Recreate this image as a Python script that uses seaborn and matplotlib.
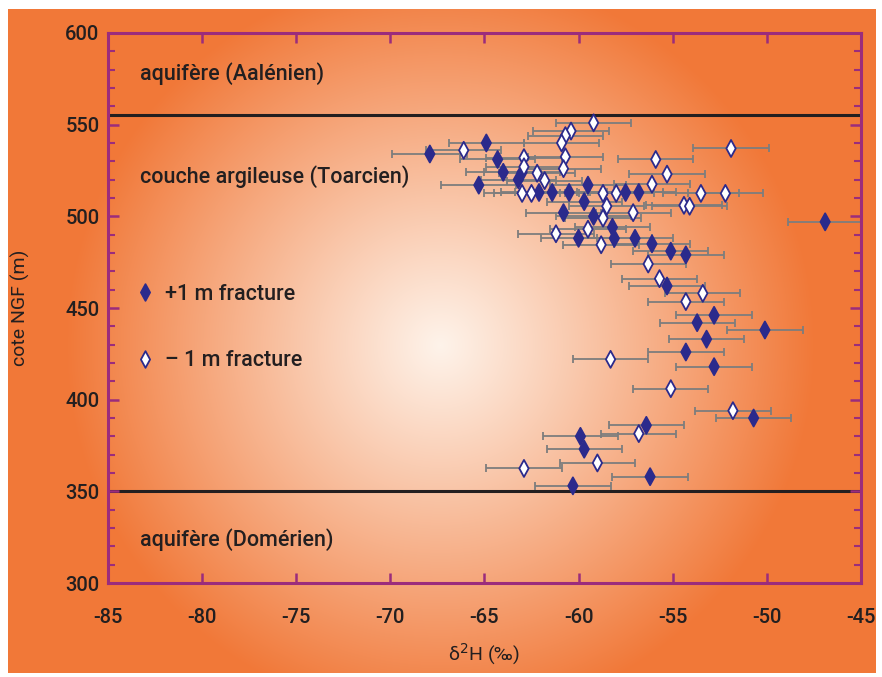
import matplotlib
matplotlib.use("Agg")
import matplotlib.pyplot as plt
from matplotlib.lines import Line2D
from matplotlib.path import Path
from matplotlib.ticker import MultipleLocator
import numpy as np
import pandas as pd
import seaborn as sns

# +1 m fracture (filled diamonds)
plus_d2h = [-67.9, -64.9, -64.3, -64.0, -65.3, -63.0, -63.2, -62.1, -61.4, -60.5,
            -59.5, -59.7, -57.5, -56.8, -60.8, -59.2, -58.2, -58.1, -60.0, -57.0,
            -56.1, -55.1, -54.3, -46.9, -55.3, -52.8, -53.7, -50.1, -53.2, -54.3,
            -52.8, -50.7, -56.4, -59.9, -59.7, -56.2, -60.3]
plus_cote = [534, 540, 531, 524, 517, 524, 520, 513, 513, 513,
             517, 508, 513, 513, 502, 500, 494, 488, 488, 488,
             485, 481, 479, 497, 462, 446, 442, 438, 433, 426,
             418, 390, 386, 380, 373, 358, 353]

# -1 m fracture (open diamonds)
minus_d2h = [-59.2, -60.4, -60.7, -60.9, -66.1, -62.9, -62.9, -60.7, -60.8, -62.2,
             -61.8, -51.9, -55.9, -55.3, -56.1, -63.0, -62.5, -58.7, -58.0, -53.5,
             -52.2, -58.5, -57.1, -54.4, -54.1, -58.7, -59.5, -61.2, -58.8, -56.3,
             -55.7, -53.4, -54.3, -58.3, -55.1, -51.8, -56.8, -62.9, -59.0]
minus_cote = [551, 546.5, 544, 540, 536, 532, 527, 532.5, 526, 523.5,
              519.5, 537, 531, 523, 517.5, 512.5, 512.5, 512.5, 512.5, 512.5,
              512.5, 505.5, 502, 506, 505.5, 499, 493, 490.5, 484.5, 474,
              466, 458, 453.5, 422, 406, 394, 381.5, 362.5, 365.5]

XERR = 2.0  # uncertainty on d2H, per mil

# layer limits (cote NGF, m)
LIMIT_TOP = 555
LIMIT_BOTTOM = 350
layer_names = ["aquifère (Aalénien)", "couche argileuse (Toarcien)", "aquifère (Domérien)"]
layer_cote = [574.4, 518, 320.2]

NAVY = "#2b2a8c"
PURPLE = "#9b2c7c"
INK = "#231f20"

plt.rcParams["font.family"] = ["Roboto", "DejaVu Sans"]
plt.rcParams["font.weight"] = "medium"
plt.rcParams["axes.unicode_minus"] = False

W, H = 882, 677
fig = plt.figure(figsize=(W / 100, H / 100), dpi=100)

# orange panel with a light radial glow
yy, xx = np.mgrid[0:H, 0:W]
dist = np.hypot(xx - 440, yy - 345)
t = np.clip(dist / 375, 0, 1) ** 1.05
centre = np.array([254, 243, 234]) / 255
edge = np.array([241, 120, 56]) / 255
img = centre + (edge - centre) * t[..., None]
inside = (xx >= 8) & (xx < 876) & (yy >= 9) & (yy < 673)
img[~inside] = 1.0
bg = fig.add_axes([0, 0, 1, 1])
bg.imshow(img, aspect="auto", interpolation="bilinear")
bg.axis("off")

ax = fig.add_axes([0.1224, 0.1388, 0.8537, 0.8125])
ax.patch.set_alpha(0)

df = pd.DataFrame({
    "d2H": plus_d2h + minus_d2h,
    "cote": plus_cote + minus_cote,
    "fracture": ["+1 m"] * len(plus_d2h) + ["-1 m"] * len(minus_d2h),
})

diamond = Path([(0, 1), (0.55, 0), (0, -1), (-0.55, 0), (0, 1)],
               [Path.MOVETO, Path.LINETO, Path.LINETO, Path.LINETO, Path.CLOSEPOLY])

ax.axhline(LIMIT_TOP, color=INK, lw=2.2, zorder=1.5)
ax.axhline(LIMIT_BOTTOM, color=INK, lw=2.2, zorder=1.5)

ax.errorbar(df["d2H"], df["cote"], xerr=XERR, fmt="none", ecolor="#7d7d7d",
            elinewidth=1.3, capsize=3, capthick=1.3, zorder=2)
sns.scatterplot(data=df, x="d2H", y="cote", hue="fracture",
                palette={"+1 m": NAVY, "-1 m": "white"}, marker=diamond, s=150,
                edgecolor=NAVY, linewidth=1.3, legend=False, zorder=3, ax=ax)

for name, y in zip(layer_names, layer_cote):
    ax.text(-83.3, y, name, fontsize=15.5, color=INK, va="baseline", ha="left")

handles = [
    Line2D([], [], ls="none", marker=diamond, ms=12, mfc=NAVY, mec=NAVY, mew=1.3),
    Line2D([], [], ls="none", marker=diamond, ms=12, mfc="white", mec=NAVY, mew=1.3),
]
ax.legend(handles, ["+1 m fracture", "– 1 m fracture"], loc="upper left",
          bbox_to_anchor=(0.0345, 0.5436), frameon=False, fontsize=15.5,
          handlelength=1.0, handletextpad=0.45, labelspacing=2.1,
          borderpad=0, borderaxespad=0, labelcolor=INK)

ax.set_xlim(-85, -45)
ax.set_ylim(300, 600)
ax.xaxis.set_major_locator(MultipleLocator(5))
ax.yaxis.set_major_locator(MultipleLocator(50))
ax.yaxis.set_minor_locator(MultipleLocator(10))
ax.tick_params(axis="both", which="both", direction="in", colors=PURPLE,
               top=True, right=True)
ax.tick_params(axis="both", labelcolor=INK, labelsize=14.5)
ax.tick_params(axis="x", which="major", length=7, width=1.8, pad=18)
ax.tick_params(axis="y", which="major", length=8, width=1.8, pad=6)
ax.tick_params(axis="y", which="minor", length=5, width=1.5)
for sp in ax.spines.values():
    sp.set_color(PURPLE)
    sp.set_linewidth(2.2)

ax.set_xlabel("δ$^{2}$H (‰)", fontsize=14, color=INK)
ax.set_ylabel("cote NGF (m)", fontsize=14, color=INK)
ax.xaxis.set_label_coords(0.5, -0.107)
ax.yaxis.set_label_coords(-0.1036, 0.5)

fig.savefig("out.png", dpi=100)
